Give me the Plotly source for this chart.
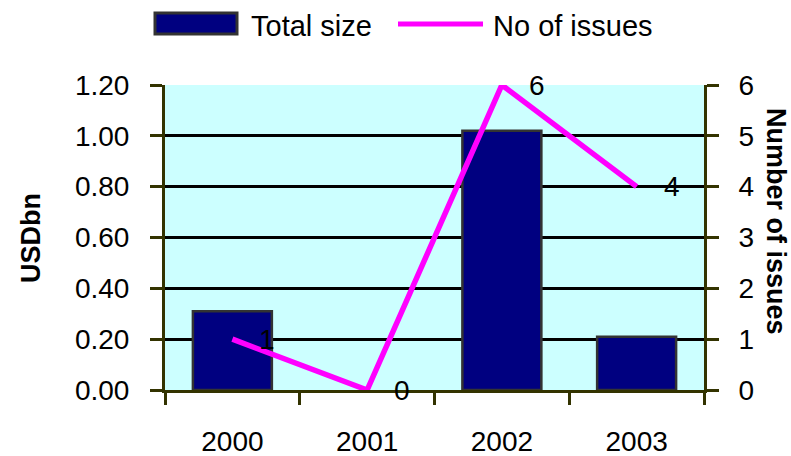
import plotly.graph_objects as go

years = ["2000", "2001", "2002", "2003"]
total_size = [0.31, 0.0, 1.02, 0.21]
num_issues = [1, 0, 6, 4]
y_left_ticks = [0, 0.2, 0.4, 0.6, 0.8, 1.0, 1.2]
y_right_ticks = [0, 1, 2, 3, 4, 5, 6]

W, H = 791, 456
L, R, T, B = 165, 704, 85, 390
FONT = "Liberation Sans, Arial, sans-serif"
FS = 28
AX = "#333300"

def px(x):
    return (x - L) / (R - L)

def py(y):
    return (B - y) / (B - T)

fig = go.Figure()
fig.add_trace(go.Bar(
    x=years, y=total_size, name="Total size",
    marker=dict(color="#000080",
                line=dict(color="#333333",
                          width=[2.5 if v > 0 else 0 for v in total_size])),
    yaxis="y", showlegend=False,
))
fig.add_trace(go.Scatter(
    x=years, y=num_issues, name="No of issues", mode="lines",
    line=dict(color="#FF00FF", width=5.5),
    yaxis="y2", showlegend=False,
))

annotations = []
for i, yv in enumerate(num_issues):
    annotations.append(dict(
        x=i, y=yv, xref="x", yref="y2", text=str(yv), showarrow=False,
        xshift=35, xanchor="center", yanchor="middle",
        font=dict(family=FONT, size=FS, color="black"),
    ))

# axis titles
annotations.append(dict(
    x=px(31), y=py(238), xref="paper", yref="paper", text="<b>USDbn</b>",
    textangle=-90, showarrow=False, xanchor="center", yanchor="middle",
    font=dict(family=FONT, size=27, color="black"),
))
annotations.append(dict(
    x=px(776), y=py(221), xref="paper", yref="paper", text="<b>Number of issues</b>",
    textangle=90, showarrow=False, xanchor="center", yanchor="middle",
    font=dict(family=FONT, size=27, color="black"),
))
# legend texts
annotations.append(dict(
    x=px(249), y=py(26), xref="paper", yref="paper", text="Total size",
    showarrow=False, xanchor="left", yanchor="middle",
    font=dict(family=FONT, size=29, color="black"),
))
annotations.append(dict(
    x=px(491), y=py(26), xref="paper", yref="paper", text="No of issues",
    showarrow=False, xanchor="left", yanchor="middle",
    font=dict(family=FONT, size=29, color="black"),
))

shapes = [
    dict(type="rect", xref="paper", yref="paper",
         x0=px(155), x1=px(237), y0=py(13), y1=py(34),
         fillcolor="#000080", line=dict(color="#333333", width=3)),
    dict(type="line", xref="paper", yref="paper",
         x0=px(398), x1=px(483), y0=py(24), y1=py(24),
         line=dict(color="#FF00FF", width=5)),
]

fig.update_layout(
    width=W, height=H,
    margin=dict(l=L, r=W - R, t=T, b=H - B, pad=0),
    paper_bgcolor="white", plot_bgcolor="#CCFFFF",
    font=dict(family=FONT, size=FS, color="black"),
    bargap=0.414,
    showlegend=False,
    annotations=annotations,
    shapes=shapes,
    xaxis=dict(
        type="category", range=[-0.5, 3.5], tickson="boundaries",
        ticks="outside", ticklen=12, tickwidth=2.5, tickcolor=AX,
        showline=True, linecolor=AX, linewidth=3, showgrid=False,
        ticklabelstandoff=24, tickfont=dict(family=FONT, size=FS),
        automargin=False,
    ),
    yaxis=dict(
        range=[0, 1.2], tickvals=y_left_ticks, tickformat=".2f",
        ticks="outside", ticklen=12, tickwidth=2.5, tickcolor=AX,
        showline=True, linecolor=AX, linewidth=3,
        showgrid=True, gridcolor="black", gridwidth=2.5, zeroline=False,
        ticklabelstandoff=15, tickfont=dict(family=FONT, size=FS),
        automargin=False,
    ),
    yaxis2=dict(
        range=[0, 6], tickvals=y_right_ticks, overlaying="y", side="right",
        ticks="outside", ticklen=12, tickwidth=2.5, tickcolor=AX,
        showline=True, linecolor=AX, linewidth=3,
        showgrid=False, zeroline=False,
        ticklabelstandoff=14, tickfont=dict(family=FONT, size=FS),
        automargin=False,
    ),
)

fig.write_html("out.html")
